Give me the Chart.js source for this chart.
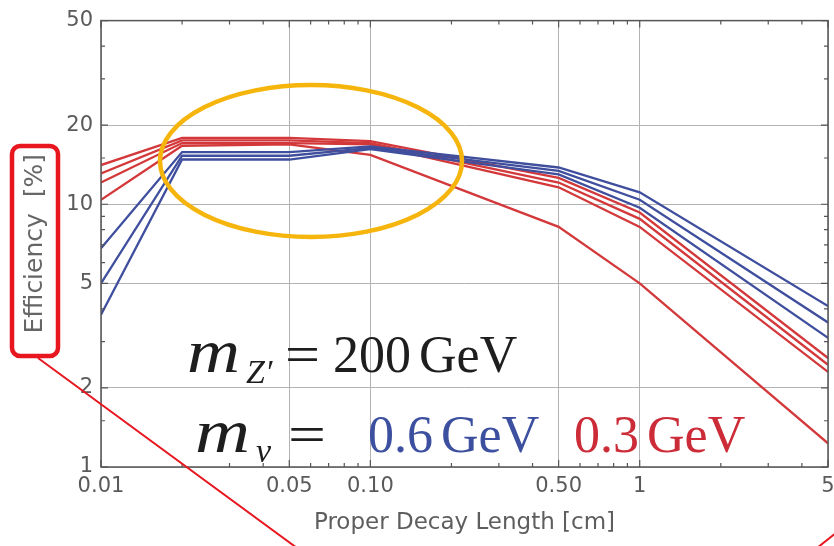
<!DOCTYPE html>
<html>
<head>
<meta charset="utf-8">
<script src="https://cdn.jsdelivr.net/npm/chart.js@4.4.1/dist/chart.umd.min.js"></script>
<style>
body { margin: 0; background: #fff; }
#wrap { width: 834px; height: 546px; }
</style>
</head>
<body>
<div id="wrap"><canvas id="chart" width="834" height="546"></canvas></div>
<script>
var decayLength = [0.01, 0.02, 0.05, 0.1, 0.5, 1, 5];

// m_v = 0.6 GeV
var blue1 = [6.8, 15.8, 15.8, 16.6, 13.8, 11.1, 4.1];
var blue2 = [5.0, 15.3, 15.3, 16.4, 13.4, 10.4, 3.55];
var blue3 = [3.8, 14.8, 14.8, 16.2, 13.0, 9.7, 3.1];

// m_v = 0.3 GeV
var red1 = [14.1, 17.9, 17.9, 17.4, 12.6, 9.3, 2.6];
var red2 = [13.1, 17.5, 17.5, 17.1, 12.1, 8.8, 2.45];
var red3 = [12.1, 17.1, 17.1, 16.9, 11.6, 8.2, 2.3];
var red4 = [10.4, 16.7, 16.9, 15.4, 8.2, 5.0, 1.23];

var xTicks = [0.01, 0.05, 0.1, 0.5, 1, 5];
var xTickLabels = ["0.01", "0.05", "0.10", "0.50", "1", "5"];
var xMinor = [0.02, 0.03, 0.04, 0.06, 0.07, 0.08, 0.09, 0.2, 0.3, 0.4, 0.6, 0.7, 0.8, 0.9, 2, 3, 4];
var yTicks = [1, 2, 5, 10, 20, 50];
var yTickLabels = ["1", "2", "5", "10", "20", "50"];
var yMinor = [1.5, 3, 4, 6, 7, 8, 9, 15, 30, 40];

var BLUE = '#3f4f9e';
var RED = '#d3383a';

function series(values, color) {
    return {
        data: decayLength.map(function (x, i) { return { x: x, y: values[i] }; }),
        borderColor: color,
        borderWidth: 2.3,
        pointRadius: 0,
        tension: 0,
        fill: false
    };
}

// frame all round with inward ticks
var frame = {
    id: 'frame',
    afterDatasetsDraw: function (chart) {
        var ctx = chart.ctx, a = chart.chartArea;
        var xs = chart.scales.x, ys = chart.scales.y;
        ctx.save();
        ctx.strokeStyle = '#555';
        ctx.lineWidth = 1.5;
        ctx.strokeRect(a.left, a.top, a.right - a.left, a.bottom - a.top);
        ctx.lineWidth = 1.2;
        ctx.beginPath();
        function xt(v, len) {
            var px = xs.getPixelForValue(v);
            ctx.moveTo(px, a.bottom); ctx.lineTo(px, a.bottom - len);
            ctx.moveTo(px, a.top); ctx.lineTo(px, a.top + len);
        }
        function yt(v, len) {
            var py = ys.getPixelForValue(v);
            ctx.moveTo(a.left, py); ctx.lineTo(a.left + len, py);
            ctx.moveTo(a.right, py); ctx.lineTo(a.right - len, py);
        }
        xTicks.forEach(function (v) { xt(v, 7); });
        xMinor.forEach(function (v) { xt(v, 4); });
        yTicks.forEach(function (v) { yt(v, 7); });
        yMinor.forEach(function (v) { yt(v, 4); });
        ctx.stroke();
        ctx.restore();
    }
};

// returns the x where the next piece can start
function drawPart(ctx, text, x, y, font, color, width) {
    ctx.save();
    ctx.font = font;
    ctx.fillStyle = color;
    ctx.textBaseline = 'alphabetic';
    ctx.textAlign = 'left';
    var w = ctx.measureText(text).width;
    if (width) {
        ctx.translate(x, y);
        ctx.scale(width / w, 1);
        ctx.fillText(text, 0, 0);
        w = width;
    } else {
        ctx.fillText(text, x, y);
    }
    ctx.restore();
    return x + w;
}

var massLabels = {
    id: 'massLabels',
    afterDatasetsDraw: function (chart) {
        var ctx = chart.ctx;
        var roman = '52px "Liberation Serif"';
        var ital = 'italic 62px "Liberation Serif"';
        var sub = 'italic 34px "Liberation Serif"';
        var ink = '#1e1e1e';
        var end;
        drawPart(ctx, 'm', 187, 372, ital, ink, 53);
        drawPart(ctx, 'Z\u2032', 246, 383, sub, ink);
        drawPart(ctx, '=', 285, 372, roman, ink, 35);
        end = drawPart(ctx, '200', 333, 372, roman, ink);
        drawPart(ctx, 'GeV', end + 8, 372, roman, ink);

        drawPart(ctx, 'm', 195, 452, ital, ink, 55);
        drawPart(ctx, 'v', 256, 462, sub, ink);
        drawPart(ctx, '=', 288, 452, roman, ink, 38);
        end = drawPart(ctx, '0.6', 368, 452, roman, '#3d509f');
        drawPart(ctx, 'GeV', end + 8, 452, roman, '#3d509f');
        end = drawPart(ctx, '0.3', 574, 452, roman, '#cc2b38');
        drawPart(ctx, 'GeV', end + 8, 452, roman, '#cc2b38');
    }
};

// highlight marks drawn on top
var highlights = {
    id: 'highlights',
    afterDraw: function (chart) {
        var ctx = chart.ctx;
        ctx.save();
        ctx.strokeStyle = '#f6b50c';
        ctx.lineWidth = 4.5;
        ctx.beginPath();
        ctx.ellipse(311, 161, 151, 76, 0, 0, Math.PI * 2);
        ctx.stroke();

        ctx.strokeStyle = '#e8161f';
        ctx.lineWidth = 4.5;
        ctx.beginPath();
        ctx.roundRect(12, 146, 46, 210, 8);
        ctx.stroke();

        ctx.lineWidth = 2;
        ctx.beginPath();
        ctx.moveTo(38, 358); ctx.lineTo(297, 548);
        ctx.moveTo(836, 533); ctx.lineTo(817, 548);
        ctx.stroke();
        ctx.restore();
    }
};

var tickFont = { family: 'DejaVu Sans', size: 21 };

new Chart(document.getElementById('chart'), {
    type: 'line',
    data: {
        datasets: [
            series(blue1, BLUE), series(blue2, BLUE), series(blue3, BLUE),
            series(red1, RED), series(red2, RED), series(red3, RED), series(red4, RED)
        ]
    },
    options: {
        responsive: false,
        animation: false,
        layout: { padding: { top: 20, right: 6, left: 0, bottom: 0 } },
        plugins: { legend: { display: false }, tooltip: { enabled: false } },
        scales: {
            x: {
                type: 'logarithmic',
                min: 0.01,
                max: 5,
                afterBuildTicks: function (s) { s.ticks = xTicks.map(function (v) { return { value: v }; }); },
                afterFit: function (s) {
                    s.height = 79;
                    // let the last label run off the edge instead of shrinking the plot
                    s.paddingLeft = 0;
                    s.paddingRight = 0;
                },
                grid: { color: '#b3b3b3', drawTicks: false },
                border: { display: false },
                ticks: {
                    padding: 7, maxRotation: 0, autoSkip: false, color: '#5a5a5a', font: tickFont,
                    callback: function (v, i) { return xTickLabels[i]; }
                },
                title: {
                    display: true, text: 'Proper Decay Length [cm]', color: '#5e5e5e',
                    font: { family: 'DejaVu Sans', size: 23 }, padding: { top: 0, bottom: 9 }
                }
            },
            y: {
                type: 'logarithmic',
                min: 1,
                max: 50,
                afterBuildTicks: function (s) { s.ticks = yTicks.map(function (v) { return { value: v }; }); },
                afterFit: function (s) { s.width = 101; },
                grid: { color: '#b3b3b3', drawTicks: false },
                border: { display: false },
                ticks: {
                    padding: 8, autoSkip: false, color: '#5a5a5a', font: tickFont,
                    callback: function (v, i) { return yTickLabels[i]; }
                },
                title: {
                    display: true, text: 'Efficiency  [%]', color: '#666',
                    font: { family: 'DejaVu Sans', size: 25 }, padding: { top: 20, bottom: 0 }
                }
            }
        }
    },
    plugins: [frame, massLabels, highlights]
});
</script>
</body>
</html>
